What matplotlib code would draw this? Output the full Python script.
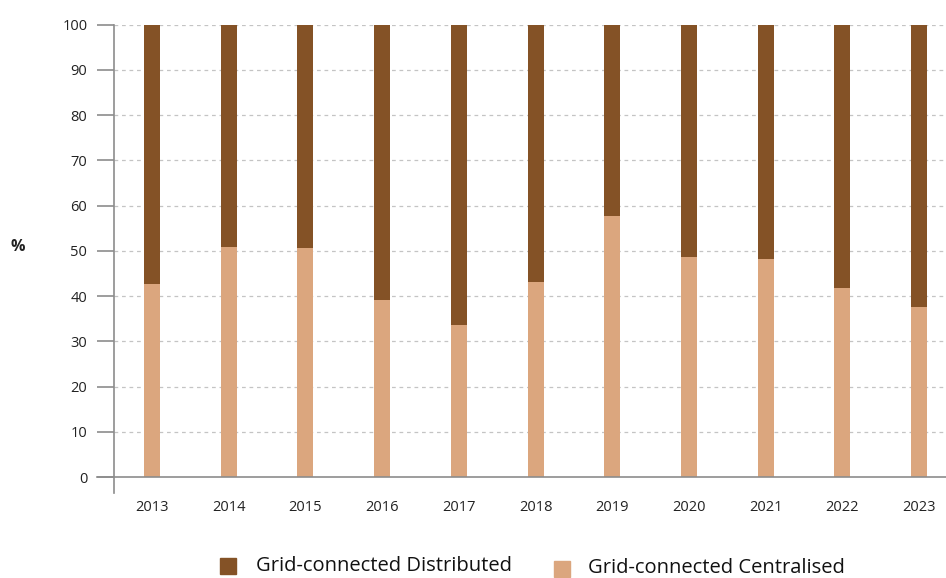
import matplotlib
matplotlib.use("Agg")
import matplotlib.pyplot as plt
from matplotlib.patches import Rectangle

years = ["2013", "2014", "2015", "2016", "2017", "2018",
         "2019", "2020", "2021", "2022", "2023"]
centralised = [42.6, 50.8, 50.6, 39.1, 33.6, 43.1, 57.7, 48.6, 48.2, 41.8, 37.6]
distributed = [round(100 - c, 1) for c in centralised]

brown = "#845226"
tan = "#dba67e"
grey = "#8c8c8c"

plt.rcParams["font.family"] = ["Open Sans", "DejaVu Sans"]

fig = plt.figure(figsize=(9.46, 5.78), dpi=100)
ax = fig.add_axes([114 / 946, 1 - 493 / 578, 832 / 946, (493 - 24.5) / 578])

x = range(len(years))
ax.bar(x, centralised, width=0.21, color=tan, zorder=3)
ax.bar(x, distributed, width=0.21, bottom=centralised, color=brown, zorder=3)

ax.set_xlim(-0.495, 10.35)
ax.set_ylim(-3.5, 100)
ax.set_yticks(range(0, 101, 10))
ax.set_xticks(list(x))
ax.set_xticklabels(years)

for y in range(10, 101, 10):
    ax.axhline(y, color="#c4c4c4", lw=0.9, ls=(0, (3, 3)), zorder=1)

# zero line runs a bit past the left spine
ax.plot([-0.02, 1], [0, 0], transform=ax.get_yaxis_transform(),
        color=grey, lw=1.2, clip_on=False, zorder=4)

for s in ["top", "right", "bottom"]:
    ax.spines[s].set_visible(False)
ax.spines["left"].set_color(grey)
ax.spines["left"].set_linewidth(1.2)

ax.tick_params(axis="y", length=12.2, width=1.2, color=grey,
               labelsize=10.5, labelcolor="#222222", pad=7)
ax.tick_params(axis="x", length=0, labelsize=10.5, labelcolor="#222222", pad=5)

fig.text(18 / 946, 1 - 247 / 578, "%", fontsize=11.5, fontweight="bold",
         ha="center", va="center", color="#222222")

# legend drawn by hand along the bottom
fig.patches.append(Rectangle((220 / 946, 1 - 574 / 578), 16 / 946, 16 / 578,
                             transform=fig.transFigure, color=brown))
fig.text(256 / 946, 1 - 566 / 578, "Grid-connected Distributed",
         fontsize=14.5, ha="left", va="center", color="#111111")
fig.patches.append(Rectangle((554 / 946, 1 - 577 / 578), 16 / 946, 16 / 578,
                             transform=fig.transFigure, color=tan))
fig.text(588 / 946, 1 - 568 / 578, "Grid-connected Centralised",
         fontsize=14.5, ha="left", va="center", color="#111111")

fig.savefig("out.png", dpi=100)
